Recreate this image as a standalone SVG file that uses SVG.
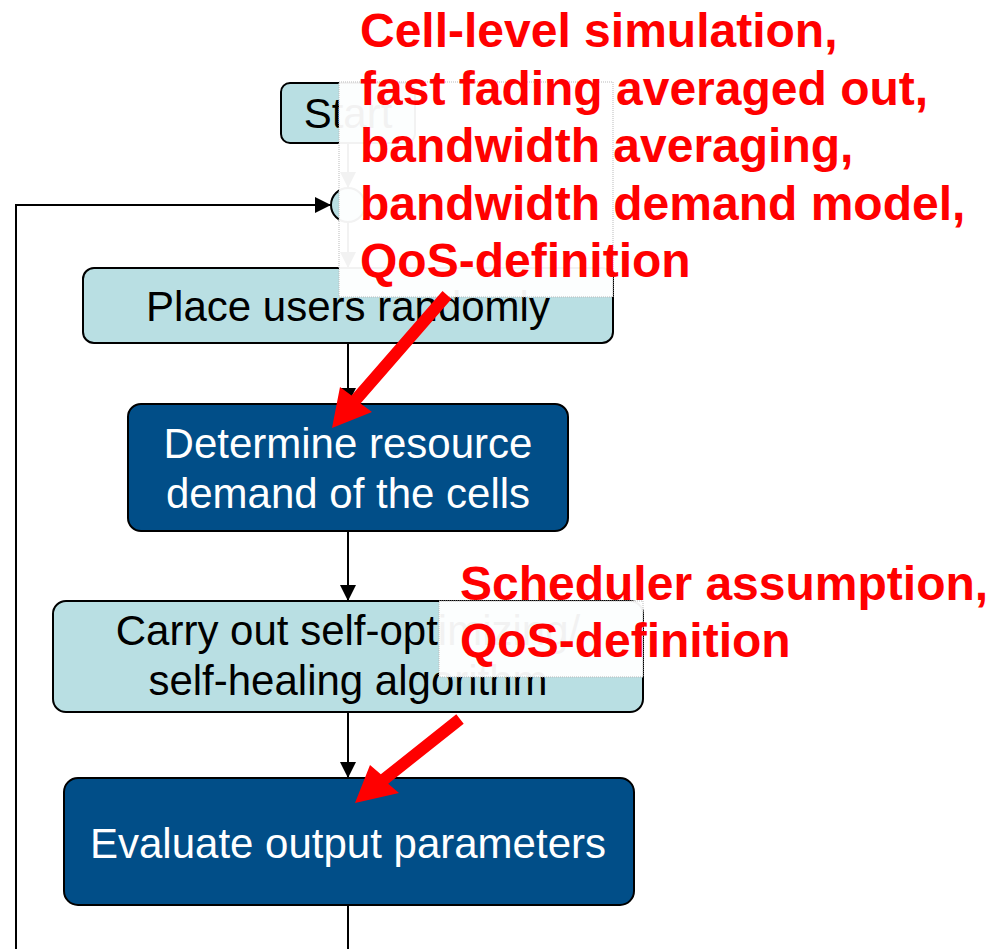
<svg xmlns="http://www.w3.org/2000/svg" width="1000" height="949" viewBox="0 0 1000 949">
<style>
.light{fill:#b9dfe3;stroke:#000;stroke-width:2}
.dark{fill:#014e88;stroke:#000;stroke-width:2}
.t{font-family:"Liberation Sans",Arial,sans-serif;font-size:42px;text-anchor:middle}
.tb{fill:#000}
.tw{fill:#fff}
.red{font-family:"Liberation Sans",Arial,sans-serif;font-size:48px;font-weight:bold;fill:#ff0000}
.conn{fill:none;stroke:#000;stroke-width:2}
.ov{fill:#fff;fill-opacity:0.95;stroke:#bbb;stroke-width:1;stroke-dasharray:1,1}
</style>
<defs>
<marker id="ah" viewBox="0 0 16 16" refX="16" refY="8" markerWidth="16" markerHeight="16" markerUnits="userSpaceOnUse" orient="auto">
<path d="M0,0 L16,8 L0,16 z" fill="#000"/>
</marker>
</defs>
<rect width="1000" height="949" fill="#fff"/>
<g id="connectors">
<line class="conn" x1="348" y1="143" x2="348" y2="188" marker-end="url(#ah)"/>
<line class="conn" x1="348" y1="222" x2="348" y2="268" marker-end="url(#ah)"/>
<line class="conn" x1="348" y1="343" x2="348" y2="404" marker-end="url(#ah)"/>
<line class="conn" x1="348" y1="531" x2="348" y2="601" marker-end="url(#ah)"/>
<line class="conn" x1="348" y1="712" x2="348" y2="778" marker-end="url(#ah)"/>
<polyline class="conn" points="348,905 348,965 16,965 16,205 331,205" marker-end="url(#ah)"/>
</g>
<g id="start">
<rect class="light" x="281" y="83" width="134" height="60" rx="9"/>
<text class="t tb" x="348" y="128">Start</text>
</g>
<g id="merge">
<circle class="light" cx="348" cy="205" r="17"/>
</g>
<g id="place">
<rect class="light" x="83" y="268" width="530" height="75" rx="11"/>
<text class="t tb" x="348" y="321">Place users randomly</text>
</g>
<g id="determine">
<rect class="dark" x="128" y="404" width="440" height="127" rx="13"/>
<text class="t tw" x="348" y="458">Determine resource</text>
<text class="t tw" x="348" y="508">demand of the cells</text>
</g>
<g id="carry">
<rect class="light" x="53" y="601" width="590" height="111" rx="13"/>
<text class="t tb" x="348" y="645">Carry out self-optimizing/</text>
<text class="t tb" x="348" y="695">self-healing algorithm</text>
</g>
<g id="evaluate">
<rect class="dark" x="64" y="778" width="570" height="127" rx="14"/>
<text class="t tw" x="348" y="858">Evaluate output parameters</text>
</g>
<g id="note1">
<rect class="ov" x="339" y="82" width="274" height="215"/>
<text class="red" x="360" y="47">Cell-level simulation,</text>
<text class="red" x="360" y="104.5">fast fading averaged out,</text>
<text class="red" x="360" y="162">bandwidth averaging,</text>
<text class="red" x="360" y="219.5">bandwidth demand model,</text>
<text class="red" x="360" y="277">QoS-definition</text>
<polygon fill="#ff0000" points="332,428 340,387 351.5,395.6 442.5,291.1 451.5,298.9 360.5,403.4 372,412"/>
</g>
<g id="note2">
<rect class="ov" x="439" y="601" width="204" height="76"/>
<text class="red" x="460" y="600">Scheduler assumption,</text>
<text class="red" x="460" y="657">QoS-definition</text>
<polygon fill="#ff0000" points="355,803 370,765 380.8,774.3 456.3,714.3 463.7,723.7 388.2,783.7 399,793"/>
</g>
</svg>
